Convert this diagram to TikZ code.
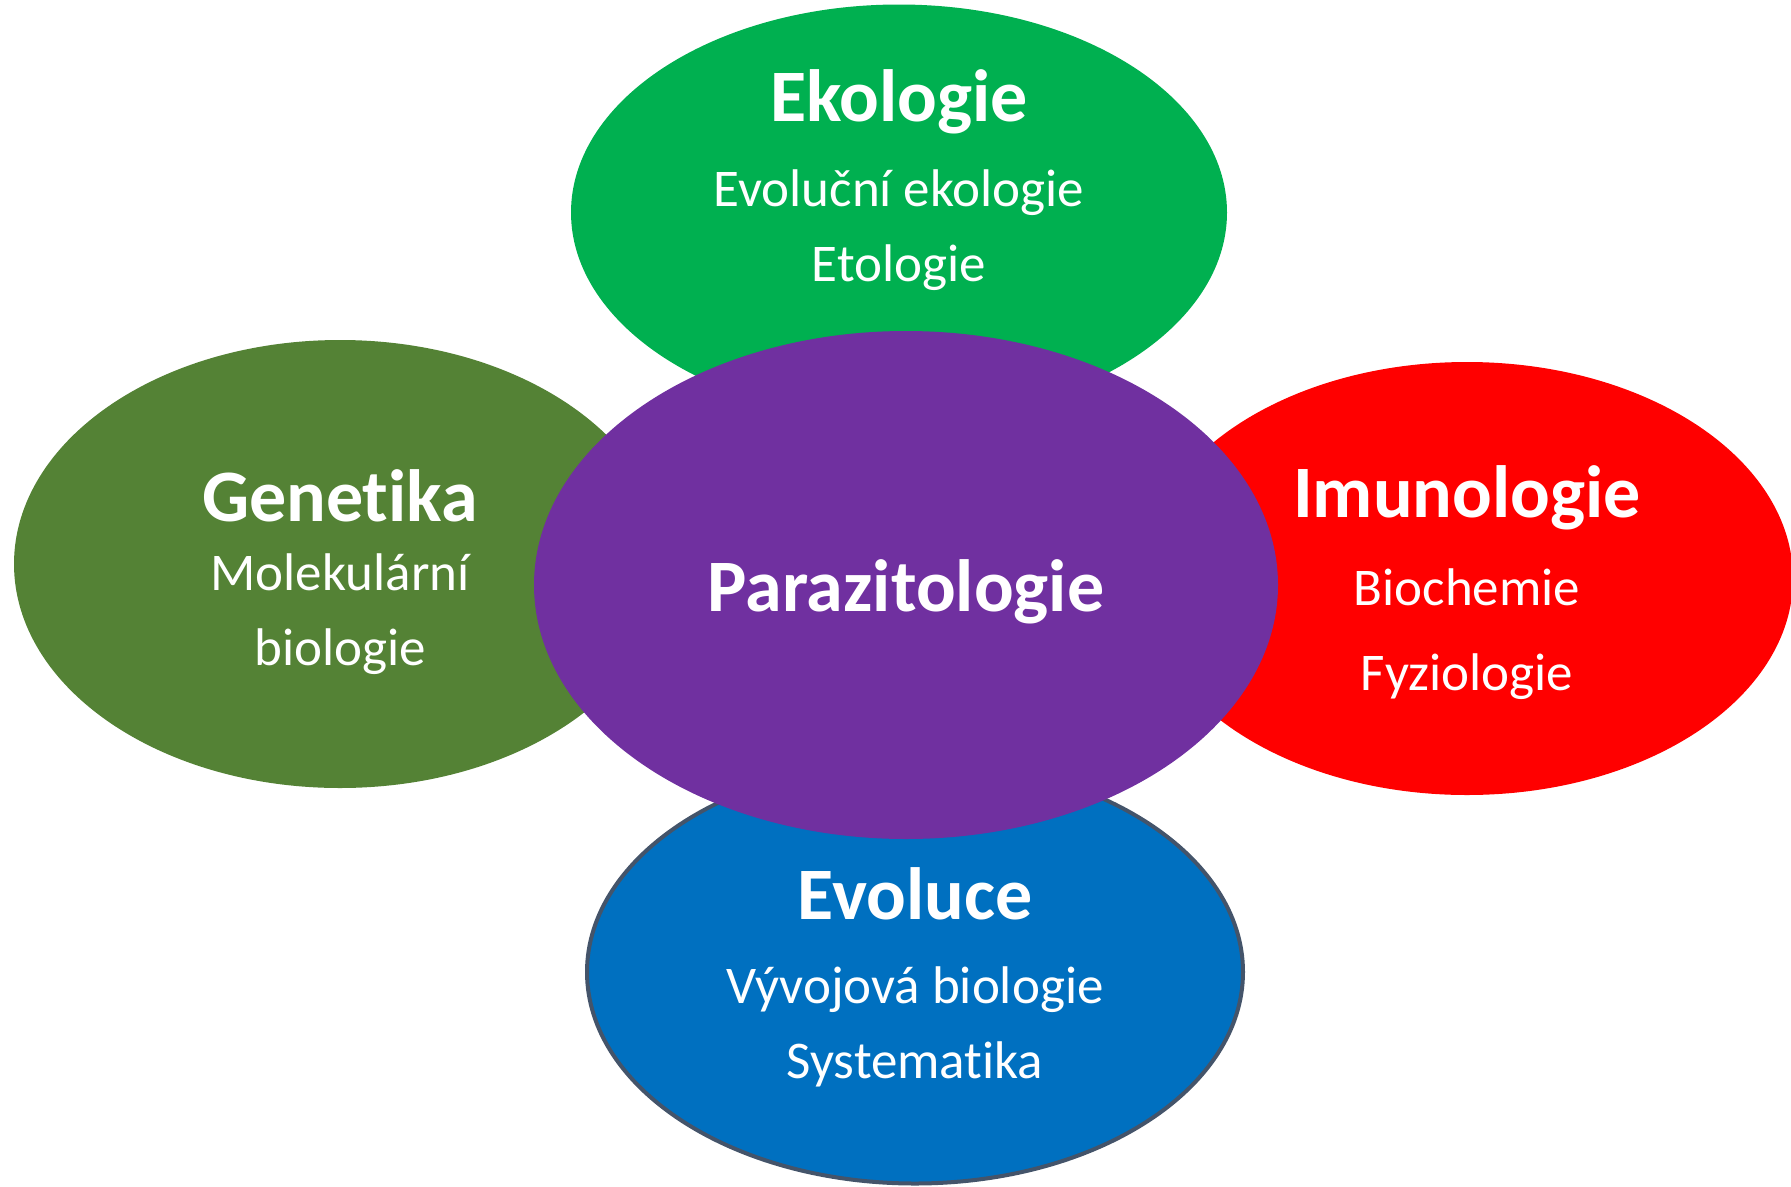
\documentclass[tikz,border=0pt]{standalone}
\usepackage{fontspec}
\setmainfont[RawFeature=-liga]{Carlito}
\usetikzlibrary{shapes.geometric}
\definecolor{cEko}{HTML}{00B050}
\definecolor{cGen}{HTML}{548235}
\definecolor{cPar}{HTML}{7030A0}
\definecolor{cImu}{HTML}{FF0000}
\definecolor{cEvo}{HTML}{0070C0}
\definecolor{cEvoBorder}{HTML}{44546A}
\tikzset{
  blob/.style={ellipse, inner sep=0pt, draw=none},
  ttl/.style={anchor=base, text=white, font=\fontsize{74}{80}\selectfont\bfseries, inner sep=0pt},
  sub/.style={anchor=base, text=white, font=\fontsize{53}{58}\selectfont, inner sep=0pt}
}
\begin{document}
\begin{tikzpicture}[x=1pt,y=-1pt]
\useasboundingbox (0,0) rectangle (1791,1186);
% ellipses
\node[blob, fill=cEko, minimum width=656pt, minimum height=416pt] (eko) at (899,212.5) {};
\node[blob, fill=cGen, minimum width=652pt, minimum height=448pt] (gen) at (340,564) {};
\node[blob, fill=cImu, minimum width=652pt, minimum height=433pt] (imu) at (1467,578.5) {};
\node[blob, fill=cEvo, draw=cEvoBorder, line width=4pt, minimum width=656pt, minimum height=423pt] (evo) at (915,972) {};
\node[blob, fill=cPar, minimum width=744pt, minimum height=508pt] (par) at (906,585) {};
% texts
\node[ttl] (ekoT) at (899,121) {Ekologie};
\node[sub] (ekoA) at (899,206) {Evoluční ekologie};
\node[sub] (ekoB) at (899,281) {Etologie};
\node[ttl] (genT) at (340,521) {Genetika};
\node[sub] (genA) at (340,590) {Molekulární};
\node[sub] (genB) at (340,665) {biologie};
\node[ttl] (imuT) at (1467,517) {Imunologie};
\node[sub] (imuA) at (1467,605) {Biochemie};
\node[sub] (imuB) at (1467,690) {Fyziologie};
\node[ttl] (parT) at (906,611) {Parazitologie};
\node[ttl] (evoT) at (915,919) {Evoluce};
\node[sub] (evoA) at (915,1003) {Vývojová biologie};
\node[sub] (evoB) at (915,1078) {Systematika};
\end{tikzpicture}
\end{document}
